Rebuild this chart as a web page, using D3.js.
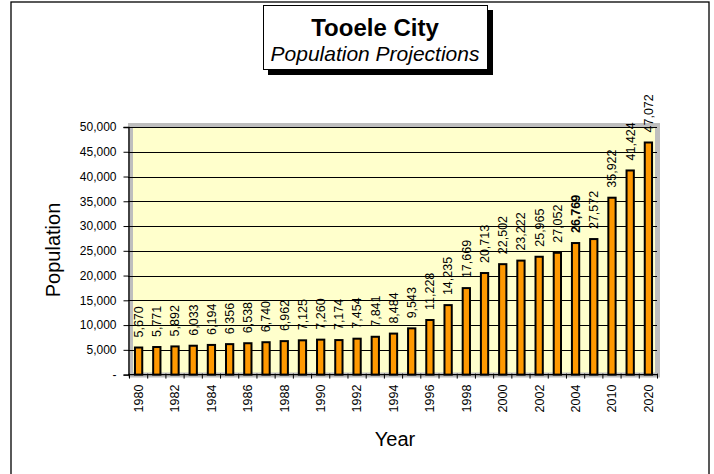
<!DOCTYPE html>
<html><head><meta charset="utf-8">
<script src="https://cdn.jsdelivr.net/npm/d3@7/dist/d3.min.js"></script>
<style>
html,body{margin:0;padding:0;background:#fff;}
svg{display:block;font-family:Arial,"Liberation Sans",sans-serif;}
</style></head>
<body><svg id="c" width="714" height="474"></svg>
<script>
// ---- data ----
const years = ["1980","1981","1982","1983","1984","1985","1986","1987","1988","1989","1990","1991","1992","1993","1994","1995","1996","1997","1998","1999","2000","2001","2002","2003","2004","2005","2010","2015","2020"];
// bar heights as drawn in the picture
const barValues = [5670,5771,5892,6033,6194,6356,6538,6740,6962,7125,7260,7174,7454,7841,8484,9543,11228,14235,17669,20713,22502,23222,24000,24800,26769,27572,35922,41424,47072];
// data-label values as printed
const labelValues = [5670,5771,5892,6033,6194,6356,6538,6740,6962,7125,7260,7174,7454,7841,8484,9543,11228,14235,17669,20713,22502,23222,25965,27052,26769,27572,35922,41424,47072];
const boldYears = ["2004"];
const xTickLabels = ["1980","1982","1984","1986","1988","1990","1992","1994","1996","1998","2000","2002","2004","2010","2020"];
const yTicks = [0,5000,10000,15000,20000,25000,30000,35000,40000,45000,50000];
const titleMain = "Tooele City";
const titleSub = "Population Projections";
const xTitle = "Year";
const yTitle = "Population";

// ---- drawing ----
const svg = d3.select("#c");
const fmt = d3.format(",");

// outer frame
svg.append("rect").attr("x",11).attr("y",2).attr("width",698).attr("height",480)
  .attr("fill","#fff").attr("stroke","#000").attr("stroke-width",1.3);

const x = d3.scaleBand().domain(years).range([129.5,657.5]).paddingInner(0.49).paddingOuter(0.245);
const y = d3.scaleLinear().domain([0,50000]).range([374.6,127]);

// plot area
svg.append("rect").attr("x",130.5).attr("y",125.5).attr("width",527).attr("height",249.5)
  .attr("fill","#FFFFCC").attr("stroke","#BEBEBE").attr("stroke-width",5);

// gridlines
svg.append("g").selectAll("line").data(yTicks.filter(d=>d>0)).join("line")
  .attr("x1",128).attr("x2",657)
  .attr("y1",d=>Math.round(y(d))+0.5).attr("y2",d=>Math.round(y(d))+0.5)
  .attr("stroke","#000").attr("stroke-width",1);

// y axis
const yAxis = d3.axisLeft(y).tickValues(yTicks).tickSize(5).tickPadding(7)
  .tickFormat(d=> d===0 ? "-" : fmt(d));
const gy = svg.append("g").attr("transform","translate(128.5,0)").call(yAxis);
gy.select(".domain").attr("stroke","#000").attr("stroke-width",1.3);
gy.selectAll(".tick line").attr("stroke","#000");
gy.selectAll("text").attr("font-size",12).attr("fill","#000")
  .attr("font-family","Arial,'Liberation Sans',sans-serif");

// x axis line
const y0 = y(0);
svg.append("line").attr("x1",128).attr("x2",658).attr("y1",y0).attr("y2",y0)
  .attr("stroke","#000").attr("stroke-width",1.3);
// x ticks at category boundaries
const step = x.step();
const gap = step - x.bandwidth();
const bounds = years.map(d=>x(d)-gap/2).concat([x(years[years.length-1])+x.bandwidth()+gap/2]);
svg.append("g").selectAll("line").data(bounds).join("line")
  .attr("x1",d=>d).attr("x2",d=>d).attr("y1",y0-1).attr("y2",y0+4)
  .attr("stroke","#000").attr("stroke-width",1);

// x labels
svg.append("g").selectAll("text").data(xTickLabels).join("text")
  .attr("transform",d=>`translate(${x(d)+x.bandwidth()/2},${y0+10}) rotate(-90)`)
  .attr("text-anchor","end").attr("dy","0.35em")
  .attr("font-size",12.5).attr("fill","#000").text(d=>d);

// bars
const data = years.map((yr,i)=>({yr, v:barValues[i], lab:labelValues[i]}));
svg.append("g").selectAll("rect").data(data).join("rect")
  .attr("x",d=>x(d.yr)+1).attr("width",x.bandwidth()-2)
  .attr("y",d=>y(d.v)+1).attr("height",d=>y0-y(d.v)-1)
  .attr("fill","#FF9900").attr("stroke","#000").attr("stroke-width",2);

// data labels
svg.append("g").selectAll("text").data(data).join("text")
  .attr("transform",d=>`translate(${x(d.yr)+x.bandwidth()/2},${y(d.v)-9}) rotate(-90)`)
  .attr("text-anchor","start").attr("dy","0.35em")
  .attr("font-size",12.5).attr("fill","#000")
  .attr("font-weight",d=>boldYears.includes(d.yr)?"bold":"normal")
  .text(d=>fmt(d.lab));

// axis titles
svg.append("text").attr("transform","translate(53,250) rotate(-90)")
  .attr("text-anchor","middle").attr("dy","0.35em").attr("font-size",20).attr("fill","#000").text(yTitle);
svg.append("text").attr("x",395).attr("y",446)
  .attr("text-anchor","middle").attr("font-size",20).attr("fill","#000").text(xTitle);

// title box with shadow
svg.append("rect").attr("x",268).attr("y",10).attr("width",225).attr("height",65).attr("fill","#000");
svg.append("rect").attr("x",263.5).attr("y",5.5).attr("width",224).attr("height",64)
  .attr("fill","#fff").attr("stroke","#000").attr("stroke-width",1);
svg.append("text").attr("x",375).attr("y",36).attr("text-anchor","middle")
  .attr("font-size",24).attr("font-weight","bold").attr("fill","#000").text(titleMain);
svg.append("text").attr("x",375).attr("y",61).attr("text-anchor","middle")
  .attr("font-size",21).attr("font-style","italic").attr("fill","#000").text(titleSub);
</script></body></html>
